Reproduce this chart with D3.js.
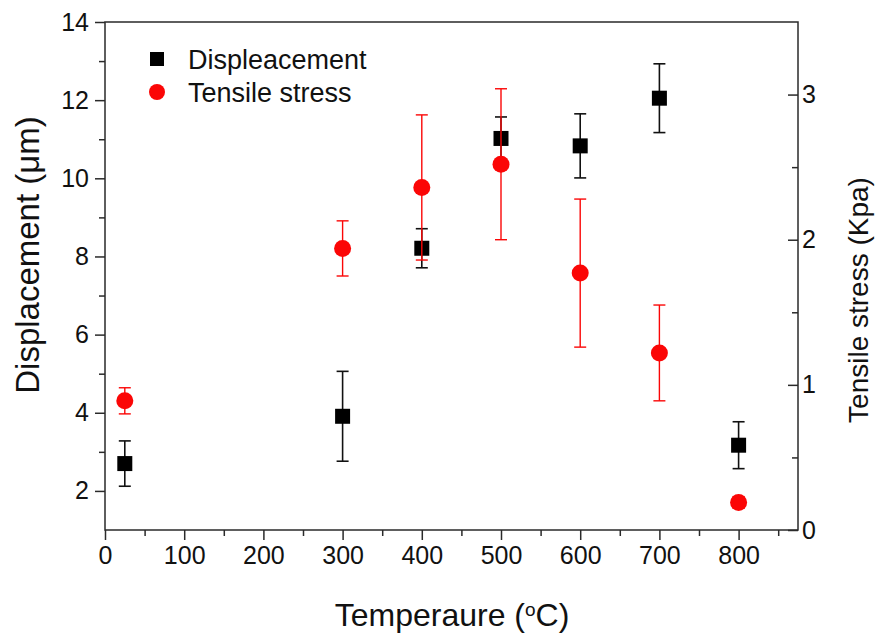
<!DOCTYPE html>
<html>
<head>
<meta charset="utf-8">
<script src="https://cdn.jsdelivr.net/npm/d3@7/dist/d3.min.js"></script>
<style>
  html, body { margin: 0; padding: 0; background: #fff; }
  svg { display: block; }
  text { font-family: "Liberation Sans", Arial, Helvetica, sans-serif; fill: #111; }
</style>
</head>
<body>
<svg id="chart" width="877" height="636"></svg>
<script>
// Temperatures (°C) at which the samples were measured
const temperatures = [25, 300, 400, 500, 600, 700, 800];
// Displacement (µm) and its standard deviation
const displacement = [2.70, 3.91, 8.21, 11.02, 10.83, 12.05, 3.17];
const displacementErr = [0.58, 1.15, 0.50, 0.55, 0.82, 0.88, 0.60];
// Tensile stress (Kpa) and its standard deviation
const tensileStress = [0.89, 1.94, 2.36, 2.52, 1.77, 1.22, 0.19];
const tensileStressErr = [0.09, 0.19, 0.50, 0.52, 0.51, 0.33, 0.04];

// Axis ticks
const xTicks = [0, 100, 200, 300, 400, 500, 600, 700, 800];
const xMinorTicks = [50, 150, 250, 350, 450, 550, 650, 750, 850];
const yLeftTicks = [2, 4, 6, 8, 10, 12, 14];
const yLeftMinorTicks = [3, 5, 7, 9, 11, 13];
const yRightTicks = [0, 1, 2, 3];
const yRightMinorTicks = [0.5, 1.5, 2.5];

const legendItems = ["Displeacement", "Tensile stress"];

const svg = d3.select("#chart");
const plotLeft = 105, plotRight = 798, plotTop = 22, plotBottom = 530;

const x = d3.scaleLinear().domain([0, 875]).range([plotLeft, plotRight]);
const yL = d3.scaleLinear().domain([1, 14]).range([plotBottom, plotTop]);
const yR = d3.scaleLinear().domain([0, 3.5]).range([plotBottom, plotTop]);

const axisColor = "#2a2a2a";

// Frame
svg.append("rect")
  .attr("x", plotLeft).attr("y", plotTop)
  .attr("width", plotRight - plotLeft).attr("height", plotBottom - plotTop)
  .attr("fill", "none").attr("stroke", axisColor).attr("stroke-width", 1.5);

function styleAxis(g, fontSize) {
  g.select(".domain").remove();
  g.selectAll(".tick line").attr("stroke", axisColor).attr("stroke-width", 1.5);
  g.selectAll(".tick text").attr("font-size", fontSize).attr("fill", "#111")
    .attr("font-family", "'Liberation Sans', Arial, sans-serif");
}

// Bottom axis
const gx = svg.append("g").attr("transform", `translate(0,${plotBottom})`)
  .call(d3.axisBottom(x).tickValues(xTicks).tickSize(10).tickPadding(6).tickFormat(d3.format("d")));
styleAxis(gx, 25);
const gxm = svg.append("g").attr("transform", `translate(0,${plotBottom})`)
  .call(d3.axisBottom(x).tickValues(xMinorTicks).tickSize(6).tickFormat(""));
styleAxis(gxm, 0);

// Left axis
const gl = svg.append("g").attr("transform", `translate(${plotLeft},0)`)
  .call(d3.axisLeft(yL).tickValues(yLeftTicks).tickSize(10).tickPadding(6).tickFormat(d3.format("d")));
styleAxis(gl, 25);
const glm = svg.append("g").attr("transform", `translate(${plotLeft},0)`)
  .call(d3.axisLeft(yL).tickValues(yLeftMinorTicks).tickSize(6).tickFormat(""));
styleAxis(glm, 0);

// Right axis: ticks point into the plot
const gr = svg.append("g").attr("transform", `translate(${plotRight},0)`)
  .call(d3.axisRight(yR).tickValues(yRightTicks).tickSize(-10).tickPadding(4).tickFormat(d3.format("d")));
styleAxis(gr, 25);
gr.selectAll(".tick text").attr("x", 4);
const grm = svg.append("g").attr("transform", `translate(${plotRight},0)`)
  .call(d3.axisRight(yR).tickValues(yRightMinorTicks).tickSize(-6).tickFormat(""));
styleAxis(grm, 0);

// Axis titles
svg.append("text")
  .attr("x", 452).attr("y", 626)
  .attr("text-anchor", "middle").attr("font-size", 32)
  .html('Temperaure (<tspan baseline-shift="super" font-size="19">o</tspan>C)');

svg.append("text")
  .attr("transform", `translate(39,255) rotate(-90)`)
  .attr("text-anchor", "middle").attr("font-size", 33)
  .text("Displacement (\u03bcm)");

svg.append("text")
  .attr("transform", `translate(868,300) rotate(-90)`)
  .attr("text-anchor", "middle").attr("font-size", 28)
  .text("Tensile stress (Kpa)");

// Error bars
const cap = 6;
function errorBars(values, errs, yScale, color, width) {
  const g = svg.append("g").attr("stroke", color).attr("stroke-width", width);
  temperatures.forEach((t, i) => {
    const cx = x(t), y0 = yScale(values[i] - errs[i]), y1 = yScale(values[i] + errs[i]);
    g.append("line").attr("x1", cx).attr("x2", cx).attr("y1", y0).attr("y2", y1);
    g.append("line").attr("x1", cx - cap).attr("x2", cx + cap).attr("y1", y0).attr("y2", y0);
    g.append("line").attr("x1", cx - cap).attr("x2", cx + cap).attr("y1", y1).attr("y2", y1);
  });
}

const sq = 15, r = 8.5;
const red = "#fb0606";

// Displacement series
errorBars(displacement, displacementErr, yL, "#111", 1.6);
svg.append("g").selectAll("rect").data(temperatures).join("rect")
  .attr("x", d => x(d) - sq / 2)
  .attr("y", (d, i) => yL(displacement[i]) - sq / 2)
  .attr("width", sq).attr("height", sq).attr("fill", "#000");

// Tensile stress series
errorBars(tensileStress, tensileStressErr, yR, red, 1.4);
svg.append("g").selectAll("circle").data(temperatures).join("circle")
  .attr("cx", d => x(d))
  .attr("cy", (d, i) => yR(tensileStress[i]))
  .attr("r", r).attr("fill", red);

// Legend
const lg = svg.append("g");
lg.append("rect").attr("x", 157 - 7).attr("y", 59 - 7).attr("width", 14).attr("height", 14).attr("fill", "#000");
lg.append("circle").attr("cx", 157).attr("cy", 92).attr("r", 8).attr("fill", red);
legendItems.forEach((t, i) => {
  lg.append("text").attr("x", 188).attr("y", 59 + i * 33).attr("dy", "0.36em")
    .attr("font-size", 27).text(t);
});
</script>
</body>
</html>
